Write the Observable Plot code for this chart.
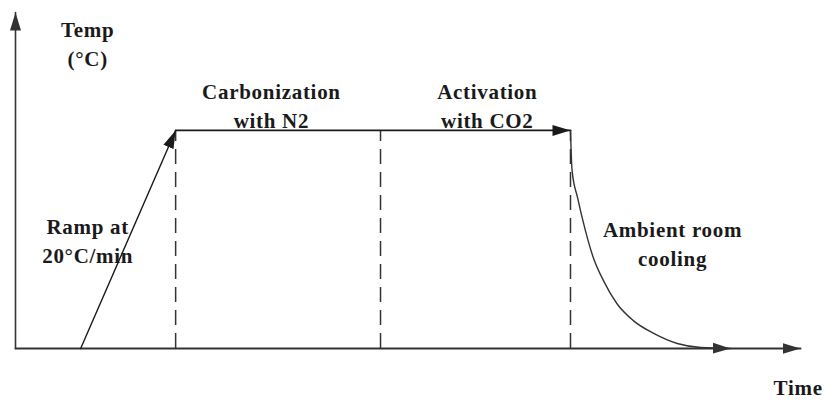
<!DOCTYPE html>
<html>
<head>
<meta charset="utf-8">
<script src="https://cdn.jsdelivr.net/npm/d3@7"></script>
<script src="https://cdn.jsdelivr.net/npm/@observablehq/plot@0.6"></script>
<style>
  html, body { margin: 0; padding: 0; background: #fff; }
  #chart svg { display: block; }
  #chart text { letter-spacing: 0.7px; }
</style>
</head>
<body>
<div id="chart"></div>
<script>
// ---- data (schematic units: time 0..100, temperature 0..100) ----
const rampTime = [8.3, 20.4];
const rampTemp = [0, 64.9];
const holdTime = [20.4, 70.7];
const holdTemp = [64.9, 64.9];
const coolTime = [70.7, 70.9, 71.6, 72.6, 73.6, 74.9, 76.6, 78.7, 81.3, 84.3, 87.3, 91.1];
const coolTemp = [64.9, 53.0, 44.9, 35.1, 27.1, 20.2, 13.4, 8.3, 4.5, 1.5, 0.3, 0];
const phaseBounds = [20.4, 46.5, 70.7];
const phaseTop = 64.9;

const labelText = ["Temp\n(°C)", "Carbonization\nwith N2", "Activation\nwith CO2", "Ramp at\n20°C/min", "Ambient room\ncooling", "Time"];
const labelTime = [9.2, 32.6, 60.1, 9.2, 83.7, 99.7];
const labelTemp = [91.2, 72.6, 72.6, 32.4, 31.5, -11.0];

// ---- helpers ----
const pts = (xs, ys) => xs.map((x, i) => ({x, y: ys[i]}));
const labels = labelText.map((t, i) => ({t, x: labelTime[i], y: labelTemp[i]}));

function filledArrow(color, context) {
  const doc = (context && context.document) || document;
  const ns = "http://www.w3.org/2000/svg";
  const m = doc.createElementNS(ns, "marker");
  m.setAttribute("viewBox", "-18 -6 18 12");
  m.setAttribute("markerWidth", 18);
  m.setAttribute("markerHeight", 12);
  m.setAttribute("markerUnits", "userSpaceOnUse");
  m.setAttribute("refX", 0);
  m.setAttribute("refY", 0);
  m.setAttribute("orient", "auto");
  const p = doc.createElementNS(ns, "path");
  p.setAttribute("d", "M-18,-5.5L0,0L-18,5.5Z");
  p.setAttribute("fill", color);
  p.setAttribute("stroke", "none");
  m.appendChild(p);
  return m;
}

const ink = "#1a1a1a";
const font = "'Liberation Serif', 'Times New Roman', serif";

const chart = Plot.plot({
  width: 827,
  height: 402,
  margin: 0,
  style: {background: "#fff", fontFamily: font},
  x: {domain: [0, 100], range: [15, 800], axis: null},
  y: {domain: [0, 100], range: [348, 12], axis: null},
  marks: [
    // dashed phase boundaries
    Plot.ruleX(phaseBounds, {x: d => d, y1: 0, y2: phaseTop, stroke: "#333", strokeWidth: 1.5, strokeDasharray: "15,8"}),
    // axes with arrowheads
    Plot.line(pts([0, 100], [0, 0]), {x: "x", y: "y", stroke: "#333", strokeWidth: 2, markerEnd: filledArrow}),
    Plot.line(pts([0, 0], [0, 100]), {x: "x", y: "y", stroke: "#333", strokeWidth: 1.6, markerEnd: filledArrow}),
    // ramp
    Plot.line(pts(rampTime, rampTemp), {x: "x", y: "y", stroke: ink, strokeWidth: 1.4, markerEnd: filledArrow}),
    // hold
    Plot.line(pts(holdTime, holdTemp), {x: "x", y: "y", stroke: ink, strokeWidth: 1.8, markerEnd: filledArrow}),
    // cooling
    Plot.line(pts(coolTime, coolTemp), {x: "x", y: "y", stroke: "#333", strokeWidth: 1.4, curve: "monotone-x", markerEnd: filledArrow}),
    // labels
    Plot.text(labels, {x: "x", y: "y", text: "t", fontFamily: font, fontSize: 21, fontWeight: "bold", fill: ink, lineHeight: 1.38, lineAnchor: "middle", textAnchor: "middle"})
  ]
});
document.getElementById("chart").appendChild(chart);
</script>
</body>
</html>
